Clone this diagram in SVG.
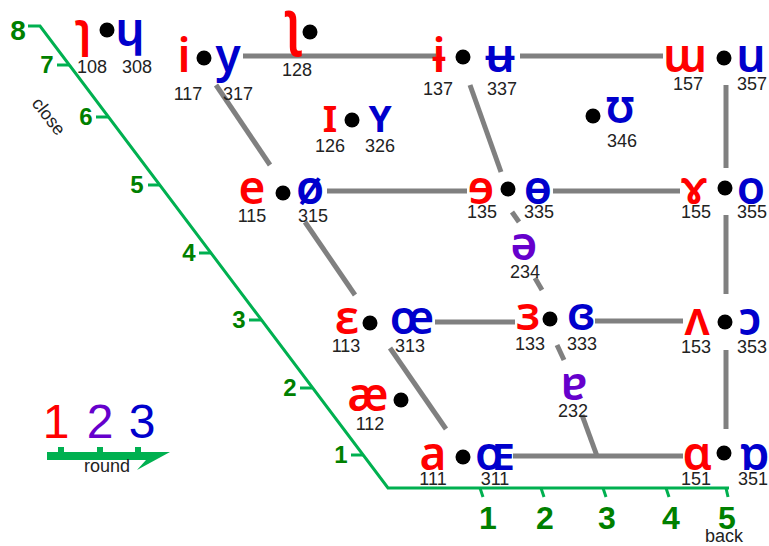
<svg xmlns="http://www.w3.org/2000/svg" width="769" height="546" viewBox="0 0 769 546">
<style>
.s{font-family:"Noto Sans","DejaVu Sans",sans-serif;font-weight:600;font-size:46px;text-anchor:middle}
.r{fill:#FF0000}.b{fill:#0000CC}.p{fill:#6600CC}
.n{font-family:"Liberation Sans",sans-serif;font-size:18px;fill:#222;text-anchor:middle}
.g{font-family:"Liberation Sans",sans-serif;font-weight:bold;fill:#008000;text-anchor:middle}
.lg{font-family:"Liberation Sans",sans-serif;font-size:48px;text-anchor:middle}
.ln{stroke:#808080;stroke-width:5;fill:none}
.ax{stroke:#00B050;stroke-width:3;fill:none}
</style>
<rect width="769" height="546" fill="#fff"/>
<g id="connectors">
<line class="ln" x1="243" y1="56" x2="436" y2="56"/>
<line class="ln" x1="520" y1="56" x2="663" y2="56"/>
<line class="ln" x1="327" y1="191" x2="467" y2="191"/>
<line class="ln" x1="553" y1="191" x2="680" y2="191"/>
<line class="ln" x1="435" y1="322" x2="515" y2="322"/>
<line class="ln" x1="595" y1="321" x2="683" y2="321"/>
<line class="ln" x1="513" y1="456" x2="683" y2="456"/>
<line class="ln" x1="216" y1="85" x2="270" y2="165"/>
<line class="ln" x1="305" y1="222" x2="355" y2="295"/>
<line class="ln" x1="390" y1="348" x2="446" y2="429"/>
<line class="ln" x1="470" y1="85" x2="501" y2="172"/>
<line class="ln" x1="512" y1="212" x2="519" y2="222"/>
<line class="ln" x1="535" y1="278" x2="542" y2="290"/>
<line class="ln" x1="557" y1="345" x2="564" y2="360"/>
<line class="ln" x1="582" y1="415" x2="597" y2="456"/>
<line class="ln" x1="726" y1="85" x2="726" y2="168"/>
<line class="ln" x1="726" y1="215" x2="726" y2="294"/>
<line class="ln" x1="726" y1="350" x2="726" y2="429"/>
</g>
<g id="axis">
<polyline class="ax" points="28,26 40,26 388,488 729,488"/>
<g class="ax">
<line x1="57" y1="65" x2="69" y2="65"/>
<line x1="96" y1="117" x2="108" y2="117"/>
<line x1="148" y1="185" x2="160" y2="185"/>
<line x1="199" y1="253" x2="211" y2="253"/>
<line x1="249" y1="320" x2="261" y2="320"/>
<line x1="300" y1="388" x2="312" y2="388"/>
<line x1="351" y1="455" x2="363" y2="455"/>
<line x1="480" y1="488" x2="483" y2="497"/>
<line x1="541" y1="488" x2="544" y2="497"/>
<line x1="603" y1="488" x2="606" y2="497"/>
<line x1="666" y1="488" x2="669" y2="497"/>
<line x1="726" y1="488" x2="728" y2="497"/>
</g>
<text class="g" x="18" y="40" font-size="28">8</text>
<g font-size="24">
<text class="g" x="47" y="73">7</text>
<text class="g" x="86" y="125">6</text>
<text class="g" x="137" y="193">5</text>
<text class="g" x="189" y="261">4</text>
<text class="g" x="239" y="328">3</text>
<text class="g" x="290" y="396">2</text>
<text class="g" x="341" y="463">1</text>
</g>
<g font-size="32">
<text class="g" x="488" y="529">1</text>
<text class="g" x="545" y="529">2</text>
<text class="g" x="607" y="529">3</text>
<text class="g" x="671" y="529">4</text>
<text class="g" x="727" y="529">5</text>
</g>
<text class="n" x="724" y="542" font-size="15">back</text>
<text class="n" x="48" y="122" font-size="15" transform="rotate(52 48 117)">close</text>
</g>
<g id="legend">
<text class="lg r" x="56" y="438">1</text>
<text class="lg p" x="100" y="438">2</text>
<text class="lg b" x="142" y="438">3</text>
<polygon fill="#00B050" points="47,452 170,452 137,470 146,460 47,460"/>
<rect x="58" y="447" width="6" height="6" fill="#00B050"/>
<rect x="97" y="447" width="6" height="6" fill="#00B050"/>
<rect x="135" y="447" width="6" height="6" fill="#00B050"/>
<text class="n" x="107" y="472" font-size="16">round</text>
</g>
<g id="dots" fill="#000">
<circle cx="107" cy="30" r="7.5"/><circle cx="204" cy="58" r="7.5"/><circle cx="310" cy="32" r="7.5"/>
<circle cx="463" cy="57" r="7.5"/><circle cx="724" cy="58" r="7.5"/><circle cx="352" cy="120" r="7.5"/>
<circle cx="593" cy="116" r="7.5"/><circle cx="283" cy="193" r="7.5"/><circle cx="508" cy="189" r="7.5"/>
<circle cx="725" cy="188" r="7.5"/><circle cx="370" cy="323" r="7.5"/><circle cx="550" cy="319" r="7.5"/>
<circle cx="725" cy="322" r="7.5"/><circle cx="401" cy="400" r="7.5"/><circle cx="463" cy="457" r="7.5"/>
<circle cx="724" cy="453" r="7.5"/>
</g>
<g id="n108"><text class="s r" x="83" y="46">ɿ</text><text class="n" x="92" y="73">108</text></g>
<g id="n308"><text class="s b" x="130" y="46">ɥ</text><text class="n" x="137" y="73">308</text></g>
<g id="n117"><text class="s r" x="184" y="72">i</text><text class="n" x="188" y="100">117</text></g>
<g id="n317"><text class="s b" x="228" y="72">y</text><text class="n" x="238" y="100">317</text></g>
<g id="n128"><text class="s r" x="0" y="0" transform="translate(293,43) scale(1.1,1.29)">ʅ</text><text class="n" x="297" y="76">128</text></g>
<g id="n137"><text class="s r" x="439" y="72">ɨ</text><text class="n" x="438" y="95">137</text></g>
<g id="n337"><text class="s b" x="500" y="72">ʉ</text><text class="n" x="502" y="95">337</text></g>
<g id="n157"><text class="s r" x="685" y="72">ɯ</text><text class="n" x="688" y="90">157</text></g>
<g id="n357"><text class="s b" x="751" y="72">u</text><text class="n" x="752" y="90">357</text></g>
<g id="n126"><text class="s r" x="330" y="132">ɪ</text><text class="n" x="330" y="152">126</text></g>
<g id="n326"><text class="s b" x="380" y="132">ʏ</text><text class="n" x="380" y="152">326</text></g>
<g id="n346"><text class="s b" x="620" y="123">ʊ</text><text class="n" x="622" y="147">346</text></g>
<g id="n115"><text class="s r" x="252" y="204">e</text><text class="n" x="252" y="222">115</text></g>
<g id="n315"><text class="s b" x="310" y="204">ø</text><text class="n" x="313" y="222">315</text></g>
<g id="n135"><text class="s r" x="481" y="204">ɘ</text><text class="n" x="482" y="218">135</text></g>
<g id="n335"><text class="s b" x="538" y="204">ɵ</text><text class="n" x="539" y="218">335</text></g>
<g id="n155"><text class="s r" x="694" y="204">ɤ</text><text class="n" x="696" y="218">155</text></g>
<g id="n355"><text class="s b" x="751" y="204">o</text><text class="n" x="752" y="218">355</text></g>
<g id="n234"><text class="s p" x="524" y="260">ə</text><text class="n" x="525" y="278">234</text></g>
<g id="n113"><text class="s r" x="347" y="334">ɛ</text><text class="n" x="346" y="352">113</text></g>
<g id="n313"><text class="s b" x="412" y="334">œ</text><text class="n" x="410" y="352">313</text></g>
<g id="n133"><text class="s r" x="528" y="330">ɜ</text><text class="n" x="530" y="350">133</text></g>
<g id="n333"><text class="s b" x="581" y="330">ɞ</text><text class="n" x="582" y="350">333</text></g>
<g id="n153"><text class="s r" x="697" y="335">ʌ</text><text class="n" x="696" y="353">153</text></g>
<g id="n353"><text class="s b" x="750" y="335">ɔ</text><text class="n" x="752" y="353">353</text></g>
<g id="n112"><text class="s r" x="368" y="411">æ</text><text class="n" x="370" y="430">112</text></g>
<g id="n232"><text class="s p" x="574" y="400">ɐ</text><text class="n" x="573" y="417">232</text></g>
<g id="n111"><text class="s r" x="433" y="470">a</text><text class="n" x="433" y="485">111</text></g>
<g id="n311"><text class="s b" x="495" y="470" font-size="52">ɶ</text><text class="n" x="495" y="485">311</text></g>
<g id="n151"><text class="s r" x="697" y="470">ɑ</text><text class="n" x="696" y="485">151</text></g>
<g id="n351"><text class="s b" x="755" y="470">ɒ</text><text class="n" x="753" y="485">351</text></g>
</svg>
